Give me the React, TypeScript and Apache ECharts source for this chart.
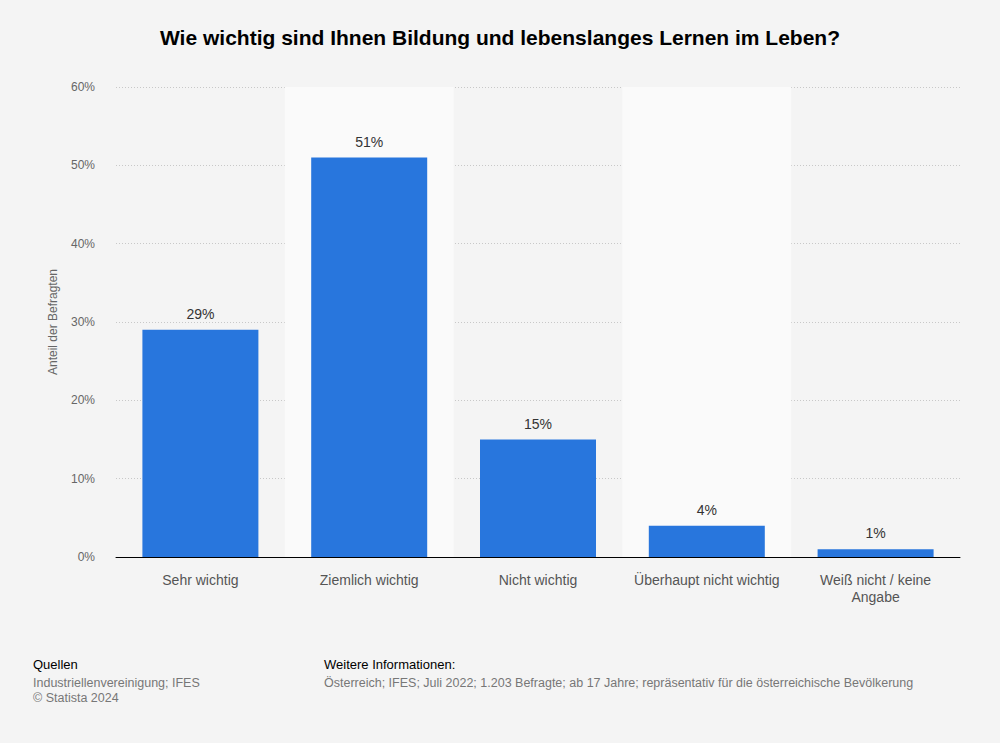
import React, { useEffect, useRef } from "react";
import * as echarts from "echarts";

const categories = ["Sehr wichtig", "Ziemlich wichtig", "Nicht wichtig", "Überhaupt nicht wichtig", "Weiß nicht / keine\nAngabe"];
const values = [29, 51, 15, 4, 1];
const title = "Wie wichtig sind Ihnen Bildung und lebenslanges Lernen im Leben?";
const yAxisName = "Anteil der Befragten";

const FONT = "'Liberation Sans', Arial, sans-serif";

export default function App() {
  const ref = useRef<HTMLDivElement>(null);
  useEffect(() => {
    if (!ref.current) return;
    const chart = echarts.init(ref.current, null, { renderer: "svg" });
    chart.setOption({
      animation: false,
      backgroundColor: "#f4f4f4",
      textStyle: { fontFamily: FONT },
      title: {
        text: title,
        left: "center",
        top: 22,
        textStyle: { fontFamily: FONT, fontSize: 21, fontWeight: "bold", color: "#000" },
      },
      grid: { left: 116, right: 40, top: 87, bottom: 186 },
      xAxis: {
        type: "category",
        data: categories,
        axisLine: { lineStyle: { color: "#000", width: 1 } },
        axisTick: { show: false },
        axisLabel: { fontFamily: FONT, fontSize: 14, color: "#555", margin: 14, lineHeight: 17, interval: 0 },
        splitArea: { show: true, areaStyle: { color: ["rgba(0,0,0,0)", "#fafafa"] } },
      },
      yAxis: {
        type: "value",
        min: 0,
        max: 60,
        interval: 10,
        name: yAxisName,
        nameLocation: "middle",
        nameGap: 57,
        nameTextStyle: { fontFamily: FONT, fontSize: 12, color: "#666" },
        axisLine: { show: false },
        axisTick: { show: false },
        axisLabel: { formatter: "{value}%", fontFamily: FONT, fontSize: 12, color: "#666", margin: 21 },
        splitLine: { lineStyle: { color: "#c8c8c8", type: [1, 2], width: 1 } },
      },
      series: [
        {
          type: "bar",
          data: values,
          barWidth: 116,
          itemStyle: { color: "#2876dd" },
          label: {
            show: true,
            position: "top",
            distance: 9,
            formatter: "{c}%",
            fontFamily: FONT,
            fontSize: 14,
            color: "#333",
          },
        },
      ],
      graphic: [
        { type: "text", left: 33, top: 658, style: { text: "Quellen", fontFamily: FONT, fontSize: 13, fill: "#000" } },
        { type: "text", left: 33, top: 676, style: { text: "Industriellenvereinigung; IFES", fontFamily: FONT, fontSize: 12.5, fill: "#777" } },
        { type: "text", left: 33, top: 691, style: { text: "© Statista 2024", fontFamily: FONT, fontSize: 12.5, fill: "#777" } },
        { type: "text", left: 324, top: 658, style: { text: "Weitere Informationen:", fontFamily: FONT, fontSize: 13, fill: "#000" } },
        { type: "text", left: 324, top: 676, style: { text: "Österreich; IFES; Juli 2022; 1.203 Befragte; ab 17 Jahre; repräsentativ für die österreichische Bevölkerung", fontFamily: FONT, fontSize: 12.5, fill: "#777" } },
      ],
    });
    return () => chart.dispose();
  }, []);
  return <div ref={ref} style={{ position: "fixed", left: 0, top: 0, width: 1000, height: 743 }} />;
}
